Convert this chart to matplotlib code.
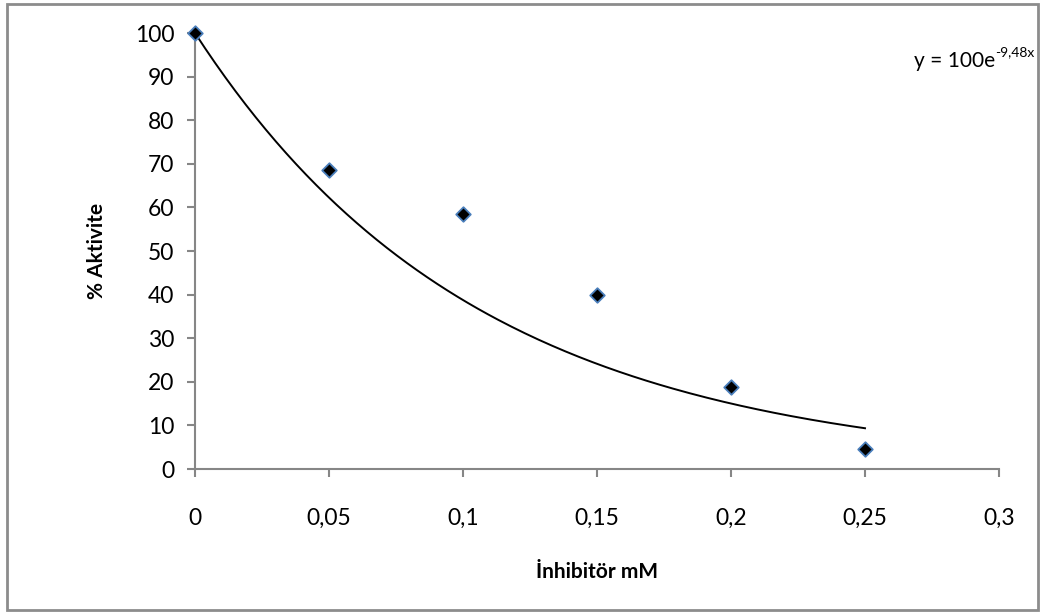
import numpy as np
import matplotlib
matplotlib.use("Agg")
import matplotlib.pyplot as plt
from matplotlib.patches import Rectangle

# Data
inhibitor_mM = [0, 0.05, 0.1, 0.15, 0.2, 0.25]
activity_pct = [100, 68.5, 58.5, 40.0, 18.8, 4.5]
fit_a = 100
fit_b = -9.48
x_ticks = [0, 0.05, 0.1, 0.15, 0.2, 0.25, 0.3]
x_tick_labels = ["0", "0,05", "0,1", "0,15", "0,2", "0,25", "0,3"]
y_ticks = [0, 10, 20, 30, 40, 50, 60, 70, 80, 90, 100]

plt.rcParams['font.family'] = ['Lato', 'DejaVu Sans']

fig = plt.figure(figsize=(10.46, 6.14), dpi=100)
W, H = 1046, 614
ax = fig.add_axes([195 / W, 1 - 469 / H, (999 - 195) / W, (469 - 33) / H])

axis_col = '#868686'
xf = np.linspace(0, 0.25, 200)
ax.plot(xf, fit_a * np.exp(fit_b * xf), color='black', lw=1.4, zorder=2)
ax.scatter(inhibitor_mM, activity_pct, marker='D', s=55, facecolor='black',
           edgecolor='#4a7ebb', linewidth=1.3, zorder=3, clip_on=False)

ax.set_xlim(0, 0.3)
ax.set_ylim(0, 100)
ax.set_xticks(x_ticks)
ax.set_xticklabels(x_tick_labels)
ax.set_yticks(y_ticks)
for s in ['top', 'right']:
    ax.spines[s].set_visible(False)
for s in ['left', 'bottom']:
    ax.spines[s].set_color(axis_col)
    ax.spines[s].set_linewidth(1.5)
ax.tick_params(axis='both', colors=axis_col, width=1.5, length=6, labelcolor='black', labelsize=16.5)
ax.tick_params(axis='x', pad=22)
ax.tick_params(axis='y', pad=9)

ax.set_xlabel('İnhibitör mM', fontsize=15, fontweight='bold', labelpad=24)
ax.set_ylabel('% Aktivite', fontsize=15, fontweight='bold', labelpad=20)

# Trendline equation with superscript exponent
t1 = fig.text(914 / W, 1 - 61 / H, 'y = 100e', ha='left', va='center', fontsize=15)
fig.canvas.draw()
bb = t1.get_window_extent(renderer=fig.canvas.get_renderer())
fig.text(bb.x1 / W, 1 - 52 / H, '-9,48x', ha='left', va='center', fontsize=10)

fig.patches.append(Rectangle((7 / W, 1 - 610 / H), (1038 - 7) / W, (610 - 4) / H,
                             transform=fig.transFigure, fill=False, edgecolor='#8c8c8c', lw=2))

fig.savefig('out.png', dpi=100)
